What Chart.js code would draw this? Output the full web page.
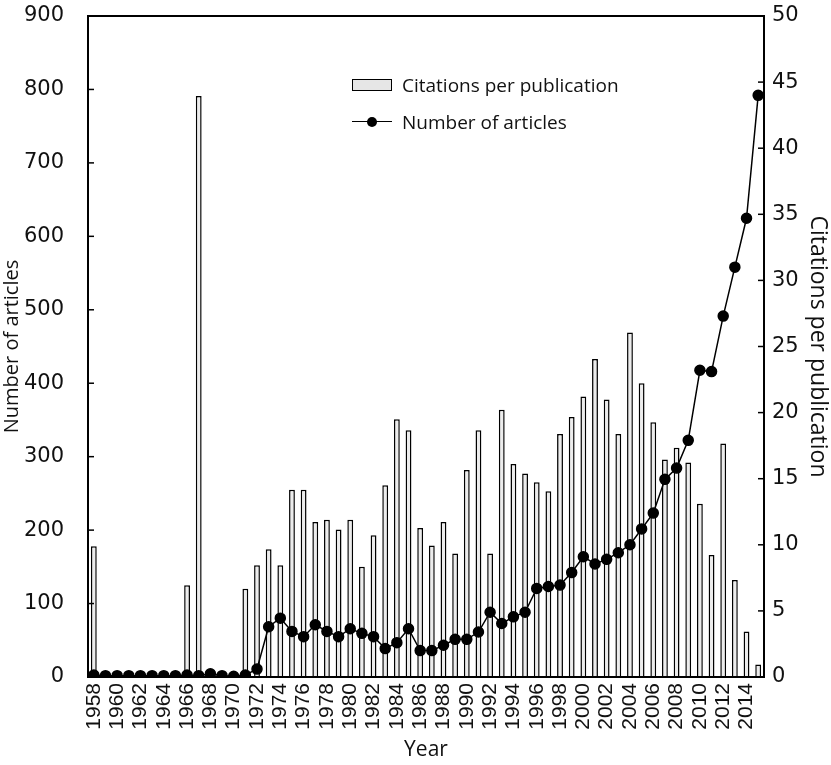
<!DOCTYPE html>
<html>
<head>
<meta charset="utf-8">
<script src="https://cdn.jsdelivr.net/npm/chart.js@4.4.1/dist/chart.umd.min.js"></script>
<style>
  body { margin: 0; background: #fff; }
  #wrap { position: relative; width: 831px; height: 765px; }
  .legend { position: absolute; left: 352px; top: 66px; font-family: "Open Sans", sans-serif; font-size: 19px; color: #111; }
  .legend .row { display: flex; align-items: center; height: 37px; }
  .legend .sw { width: 40px; height: 14px; margin-right: 10px; position: relative; }
  .legend .barsw { box-sizing: border-box; border: 1.5px solid #000; background: #e6e6e6; height: 12px; }
  .legend .linesw::before { content: ""; position: absolute; left: 0; right: 0; top: 6px; border-top: 1.5px solid #000; }
  .legend .linesw::after { content: ""; position: absolute; left: 15px; top: 2px; width: 10px; height: 10px; border-radius: 50%; background: #000; }
</style>
</head>
<body>
<div id="wrap">
  <canvas id="chart"></canvas>
  <div class="legend">
    <div class="row"><span class="sw barsw"></span>Citations per publication</div>
    <div class="row"><span class="sw linesw"></span>Number of articles</div>
  </div>
</div>
<script>
// years 1958 - 2015
const years = [];
for (let y = 1958; y <= 2015; y++) years.push(String(y));

// bars (left axis)
const citations = [
  178, 0, 0, 0, 0, 0, 0, 0, 125, 791,
  0, 0, 0, 120, 152, 174, 152, 255, 255, 211,
  214, 201, 214, 150, 193, 261, 351, 336, 203, 179,
  211, 168, 282, 336, 168, 364, 290, 277, 265, 253,
  331, 354, 382, 433, 378, 331, 469, 400, 347, 296,
  312, 292, 236, 166, 318, 132, 62, 17
];

// line (right axis)
const articles = [
  0.15, 0.1, 0.1, 0.1, 0.1, 0.1, 0.1, 0.1, 0.15, 0.1,
  0.25, 0.1, 0.05, 0.15, 0.6, 3.8, 4.45, 3.45, 3.05, 3.95,
  3.45, 3.05, 3.65, 3.3, 3.05, 2.15, 2.6, 3.65, 2.0, 2.0,
  2.4, 2.85, 2.85, 3.4, 4.9, 4.05, 4.55, 4.9, 6.7, 6.85,
  6.95, 7.9, 9.1, 8.55, 8.9, 9.4, 10.0, 11.2, 12.4, 14.95,
  15.8, 17.9, 23.2, 23.1, 27.3, 31.0, 34.7, 44.0
];

const tickFont = { family: "'DejaVu Sans', sans-serif", size: 21 };
const titleFont = { family: "'Open Sans', sans-serif", size: 20 };

// frame + inward tick marks
const framePlugin = {
  id: 'frame',
  afterDraw(chart) {
    const { ctx, chartArea: a, scales } = chart;
    ctx.save();
    ctx.strokeStyle = '#000';
    ctx.lineWidth = 2;
    ctx.strokeRect(a.left, a.top, a.right - a.left, a.bottom - a.top);
    ctx.lineWidth = 1.5;
    scales.y.ticks.forEach(t => {
      const p = scales.y.getPixelForValue(t.value);
      ctx.beginPath(); ctx.moveTo(a.left, p); ctx.lineTo(a.left + 6, p); ctx.stroke();
    });
    scales.y1.ticks.forEach(t => {
      const p = scales.y1.getPixelForValue(t.value);
      ctx.beginPath(); ctx.moveTo(a.right, p); ctx.lineTo(a.right - 6, p); ctx.stroke();
    });
    ctx.restore();
  }
};

new Chart(document.getElementById('chart'), {
  data: {
    labels: years,
    datasets: [
      {
        type: 'line',
        label: 'Number of articles',
        data: articles,
        yAxisID: 'y1',
        borderColor: '#000',
        borderWidth: 1.5,
        backgroundColor: '#000',
        pointRadius: 5,
        pointBackgroundColor: '#000',
        tension: 0,
        order: 0
      },
      {
        type: 'bar',
        label: 'Citations per publication',
        data: citations,
        yAxisID: 'y',
        backgroundColor: '#ececec',
        borderColor: '#000',
        borderWidth: 1.5,
        barPercentage: 0.5,
        categoryPercentage: 1,
        order: 1
      }
    ]
  },
  options: {
    responsive: true,
    maintainAspectRatio: false,
    animation: false,
    layout: { padding: { top: 16, left: 0, right: 0, bottom: 0 } },
    plugins: {
      legend: { display: false },
      tooltip: { enabled: false }
    },
    scales: {
      x: {
        grid: { display: false, drawTicks: false },
        border: { color: '#000', width: 2 },
        ticks: {
          autoSkip: false,
          minRotation: 90,
          maxRotation: 90,
          padding: 6,
          color: '#111',
          font: { family: "'Liberation Sans', Arial, sans-serif", size: 21 },
          callback: function (v, i) { return i % 2 === 0 ? this.getLabelForValue(v) : ''; }
        },
        title: { display: true, text: 'Year', color: '#111', font: { family: "'Open Sans', sans-serif", size: 21 }, padding: { top: 0, bottom: 2 } },
        afterFit: s => { s.height = 88; }
      },
      y: {
        position: 'left',
        min: 0, max: 900,
        grid: { display: false, drawTicks: false },
        border: { color: '#000', width: 2 },
        ticks: { stepSize: 100, padding: 24, color: '#111', font: tickFont },
        title: { display: true, text: 'Number of articles', color: '#111', font: titleFont, padding: { top: 0, bottom: 0 } },
        afterFit: s => { s.width = 88; s.paddingTop = 0; }
      },
      y1: {
        position: 'right',
        min: 0, max: 50,
        grid: { display: false, drawTicks: false },
        border: { color: '#000', width: 2 },
        ticks: { stepSize: 5, padding: 8, color: '#111', font: tickFont },
        title: { display: true, text: 'Citations per publication', color: '#111', font: { family: "'Open Sans', sans-serif", size: 23 }, padding: { top: 0, bottom: 0 } },
        afterFit: s => { s.width = 67; s.paddingTop = 0; }
      }
    }
  },
  plugins: [framePlugin]
});
</script>
</body>
</html>
